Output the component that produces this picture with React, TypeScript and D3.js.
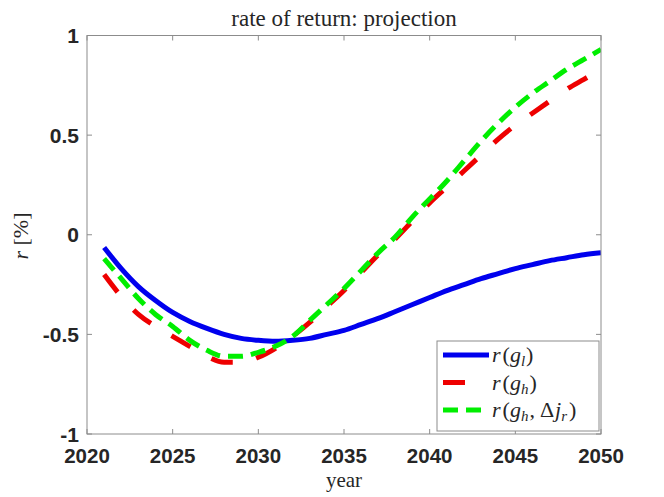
import React from "react";
import * as d3 from "d3";

const years = [2021,2022,2023,2024,2025,2026,2027,2028,2029,2030,2031,2032,2033,2034,2035,2036,2037,2038,2039,2040,2041,2042,2043,2044,2045,2046,2047,2048,2049,2050];
const rGl = [-0.064,-0.17,-0.26,-0.33,-0.39,-0.435,-0.47,-0.50,-0.52,-0.53,-0.535,-0.53,-0.52,-0.50,-0.48,-0.45,-0.42,-0.385,-0.35,-0.315,-0.28,-0.25,-0.22,-0.195,-0.17,-0.15,-0.13,-0.115,-0.10,-0.09];
const rGh = [-0.20,-0.31,-0.40,-0.46,-0.51,-0.56,-0.61,-0.64,-0.64,-0.615,-0.57,-0.51,-0.44,-0.36,-0.28,-0.19,-0.10,-0.02,0.07,0.16,0.24,0.32,0.40,0.48,0.55,0.61,0.67,0.73,0.78,0.83];
const rGhDj = [-0.12,-0.22,-0.32,-0.40,-0.46,-0.53,-0.58,-0.61,-0.61,-0.59,-0.56,-0.51,-0.43,-0.35,-0.27,-0.18,-0.09,-0.01,0.09,0.18,0.27,0.37,0.47,0.56,0.64,0.71,0.77,0.83,0.88,0.93];
const xTicks = [2020,2025,2030,2035,2040,2045,2050];
const yTicks = [-1,-0.5,0,0.5,1];

const L = 87, R = 601, T = 35.5, B = 434;

export default function App() {
  const x = d3.scaleLinear().domain([2020, 2050]).range([L, R]);
  const y = d3.scaleLinear().domain([-1, 1]).range([B, T]);
  const line = (vals: number[]) =>
    d3.line<number>().x((_, i) => x(years[i])).y((v) => y(v)).curve(d3.curveMonotoneX)(vals) || "";
  const axisColor = "#8c8c8c";
  const tickFont = "'Liberation Sans', Arial, sans-serif";
  const serif = "'Liberation Serif', 'DejaVu Serif', serif";
  const series = [
    { vals: rGl, color: "#0000ee", dash: undefined as string | undefined },
    { vals: rGh, color: "#ee0000", dash: "22 24" },
    { vals: rGhDj, color: "#00ee00", dash: "15 8" },
  ];
  const lf = 22;
  const sf = 15;
  return (
    <svg width={664} height={497} style={{ position: "absolute", left: 0, top: 0, background: "#fff" }}>
      <rect x={0} y={0} width={664} height={497} fill="#fff" />
      <text x={344} y={26} textAnchor="middle" fontFamily={serif} fontSize={23} fill="#262626">
        rate of return: projection
      </text>
      {xTicks.map((t) => (
        <g key={"xt" + t}>
          <line x1={x(t)} x2={x(t)} y1={B} y2={B - 5} stroke={axisColor} strokeWidth={1} />
          <line x1={x(t)} x2={x(t)} y1={T} y2={T + 5} stroke={axisColor} strokeWidth={1} />
          <text x={x(t)} y={463} textAnchor="middle" fontFamily={tickFont} fontWeight="bold" fontSize={20.5} fill="#262626">
            {t}
          </text>
        </g>
      ))}
      {yTicks.map((t) => (
        <g key={"yt" + t}>
          <line x1={L} x2={L + 5} y1={y(t)} y2={y(t)} stroke={axisColor} strokeWidth={1} />
          <line x1={R} x2={R - 5} y1={y(t)} y2={y(t)} stroke={axisColor} strokeWidth={1} />
          <text x={79} y={y(t) + 7.5} textAnchor="end" fontFamily={tickFont} fontWeight="bold" fontSize={21} fill="#262626">
            {t === 0 ? "0" : String(t)}
          </text>
        </g>
      ))}
      <clipPath id="plotclip">
        <rect x={L} y={T} width={R - L} height={B - T} />
      </clipPath>
      <g clipPath="url(#plotclip)">
        {series.map((s, i) => (
          <path key={i} d={line(s.vals)} fill="none" stroke={s.color} strokeWidth={5} strokeDasharray={s.dash} />
        ))}
      </g>
      <rect x={L} y={T} width={R - L} height={B - T} fill="none" stroke={axisColor} strokeWidth={1} />
      {/* legend */}
      <rect x={437} y={341} width={162} height={90} fill="#fff" stroke={axisColor} strokeWidth={1} />
      {series.map((s, i) => {
        const ly = 355 + i * 27.5;
        return (
          <g key={"lg" + i}>
            <line x1={443} x2={489} y1={ly} y2={ly} stroke={s.color} strokeWidth={5} strokeDasharray={s.dash} />
          </g>
        );
      })}
      <text x={492} y={362} fontFamily={serif} fontSize={lf} fill="#262626">
        <tspan fontStyle="italic">r</tspan>
        <tspan dx={2}>(</tspan>
        <tspan fontStyle="italic">g</tspan>
        <tspan fontStyle="italic" fontSize={sf} dy={4}>l</tspan>
        <tspan dy={-4} dx={1}>)</tspan>
      </text>
      <text x={492} y={389.5} fontFamily={serif} fontSize={lf} fill="#262626">
        <tspan fontStyle="italic">r</tspan>
        <tspan dx={2}>(</tspan>
        <tspan fontStyle="italic">g</tspan>
        <tspan fontStyle="italic" fontSize={sf} dy={4}>h</tspan>
        <tspan dy={-4} dx={1}>)</tspan>
      </text>
      <text x={492} y={417} fontFamily={serif} fontSize={lf} fill="#262626">
        <tspan fontStyle="italic">r</tspan>
        <tspan dx={2}>(</tspan>
        <tspan fontStyle="italic">g</tspan>
        <tspan fontStyle="italic" fontSize={sf} dy={4}>h</tspan>
        <tspan dy={-4} dx={1}>,</tspan>
        <tspan dx={5}>Δ</tspan>
        <tspan fontStyle="italic" dx={1}>j</tspan>
        <tspan fontStyle="italic" fontSize={sf} dy={4}>r</tspan>
        <tspan dy={-4} dx={2}>)</tspan>
      </text>
      <text x={344} y={487} textAnchor="middle" fontFamily={serif} fontSize={21} fill="#262626">
        year
      </text>
      <text transform="translate(28,236) rotate(-90)" textAnchor="middle" fontFamily={serif} fontSize={22} fill="#262626">
        <tspan fontStyle="italic">r</tspan> [%]
      </text>
    </svg>
  );
}
